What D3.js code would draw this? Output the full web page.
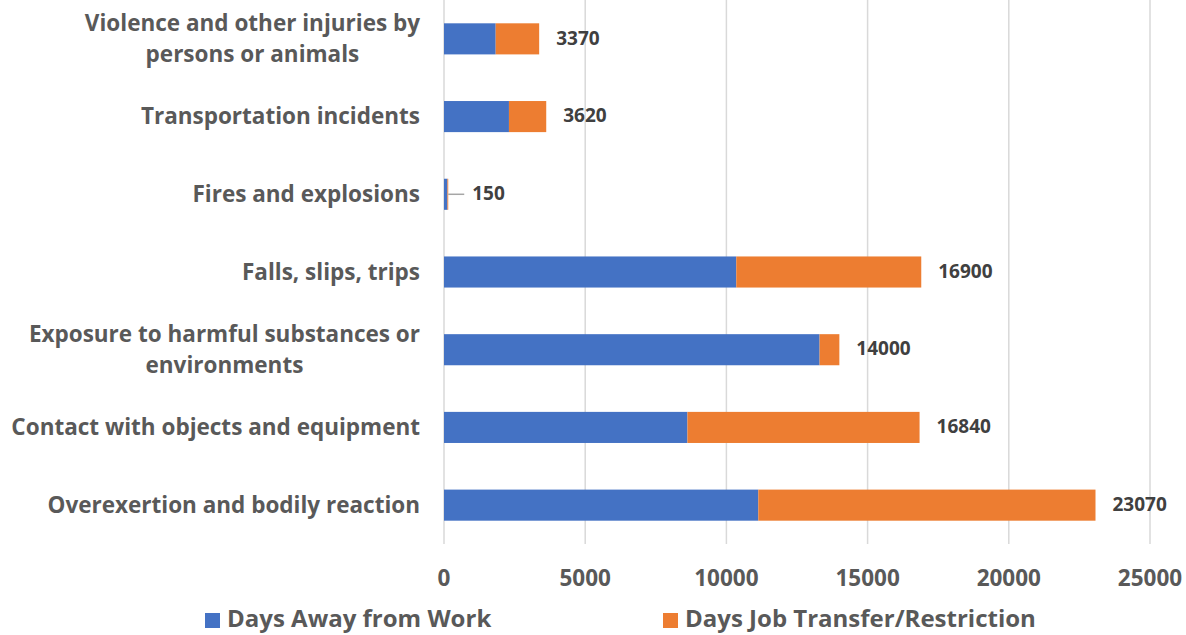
<!DOCTYPE html>
<meta charset="utf-8">
<head>
<script src="https://cdn.jsdelivr.net/npm/d3@7"></script>
<style>
body { margin: 0; background: #fff; font-family: "Open Sans", sans-serif; font-weight: 700; }
.cat-label { font-size: 22.5px; fill: #595959; }
.tick-label { font-size: 22.5px; fill: #595959; }
.value-label { font-size: 19px; fill: #404040; }
.legend-text { font-size: 24px; fill: #595959; }
</style>
</head>
<body>
<div id="chart"></div>
<script>
// data, top row first
var categories = [
  ["Violence and other injuries by", "persons or animals"],
  ["Transportation incidents"],
  ["Fires and explosions"],
  ["Falls, slips, trips"],
  ["Exposure to harmful substances or", "environments"],
  ["Contact with objects and equipment"],
  ["Overexertion and bodily reaction"]
];
var daysAway = [1830, 2300, 120, 10350, 13300, 8620, 11130];
var daysTransfer = [1540, 1320, 30, 6550, 700, 8220, 11940];
var totals = [3370, 3620, 150, 16900, 14000, 16840, 23070];
var xTicks = [0, 5000, 10000, 15000, 20000, 25000];
var seriesNames = ["Days Away from Work", "Days Job Transfer/Restriction"];
var seriesColors = ["#4472C4", "#ED7D31"];

var width = 1186, height = 635;
var plot = {left: 444, right: 1150, top: 0, bottom: 544};

var svg = d3.select("#chart").append("svg")
    .attr("width", width)
    .attr("height", height);

var x = d3.scaleLinear().domain([0, 25000]).range([plot.left, plot.right]);
var y = d3.scaleBand().domain(d3.range(categories.length)).range([plot.top, plot.bottom]);
var barH = y.bandwidth() * 0.4;

// gridlines
svg.append("g").selectAll("line")
    .data(xTicks)
    .enter().append("line")
    .attr("x1", function(d) { return x(d); })
    .attr("x2", function(d) { return x(d); })
    .attr("y1", plot.top)
    .attr("y2", plot.bottom)
    .style("stroke", "#d9d9d9")
    .style("stroke-width", 1.5);

// tick labels
svg.append("g").selectAll("text")
    .data(xTicks)
    .enter().append("text")
    .attr("class", "tick-label")
    .attr("x", function(d) { return x(d); })
    .attr("y", 586)
    .attr("text-anchor", "middle")
    .text(function(d) { return d; });

var rows = categories.map(function(c, i) {
  return {i: i, away: daysAway[i], transfer: daysTransfer[i], total: totals[i]};
});

// bars
var bars = svg.append("g");
bars.selectAll(".away")
    .data(rows)
    .enter().append("rect")
    .attr("x", x(0))
    .attr("y", function(d) { return y(d.i) + (y.bandwidth() - barH) / 2; })
    .attr("width", function(d) { return x(d.away) - x(0); })
    .attr("height", barH)
    .style("fill", seriesColors[0]);
bars.selectAll(".transfer")
    .data(rows)
    .enter().append("rect")
    .attr("x", function(d) { return x(d.away); })
    .attr("y", function(d) { return y(d.i) + (y.bandwidth() - barH) / 2; })
    .attr("width", function(d) { return x(d.away + d.transfer) - x(d.away); })
    .attr("height", barH)
    .style("fill", seriesColors[1]);

// value labels (small bars get a leader line)
var labels = svg.append("g");
rows.forEach(function(d) {
  var cy = y(d.i) + y.bandwidth() / 2;
  var end = x(d.total);
  var small = end - x(0) < 10;
  var lx = end + (small ? 24 : 17);
  if (small) {
    labels.append("line")
        .attr("x1", end).attr("x2", end + 16)
        .attr("y1", cy).attr("y2", cy)
        .style("stroke", "#a6a6a6")
        .style("stroke-width", 1.5);
  }
  labels.append("text")
      .attr("class", "value-label")
      .attr("x", lx)
      .attr("y", cy - 1)
      .attr("dy", "0.35em")
      .text(d.total);
});

// category labels, wrapped lines centred within their block, block right-aligned
var catG = svg.append("g");
var rightEdge = 420, lineH = 31;
categories.forEach(function(lines, i) {
  var cy = y(i) + y.bandwidth() / 2;
  var g = catG.append("g");
  var texts = lines.map(function(t, k) {
    return g.append("text")
        .attr("class", "cat-label")
        .attr("y", cy + (k - (lines.length - 1) / 2) * lineH)
        .attr("dy", "0.35em")
        .attr("text-anchor", "middle")
        .text(t);
  });
  var maxW = d3.max(texts, function(t) { return t.node().getComputedTextLength(); });
  texts.forEach(function(t) { t.attr("x", rightEdge - maxW / 2); });
});

// legend
var legendX = [205, 663];
var legend = svg.append("g");
seriesNames.forEach(function(name, i) {
  legend.append("rect")
      .attr("x", legendX[i]).attr("y", 613)
      .attr("width", 15).attr("height", 15)
      .style("fill", seriesColors[i]);
  legend.append("text")
      .attr("class", "legend-text")
      .attr("x", legendX[i] + 22)
      .attr("y", 627)
      .text(name);
});
</script>
</body>
